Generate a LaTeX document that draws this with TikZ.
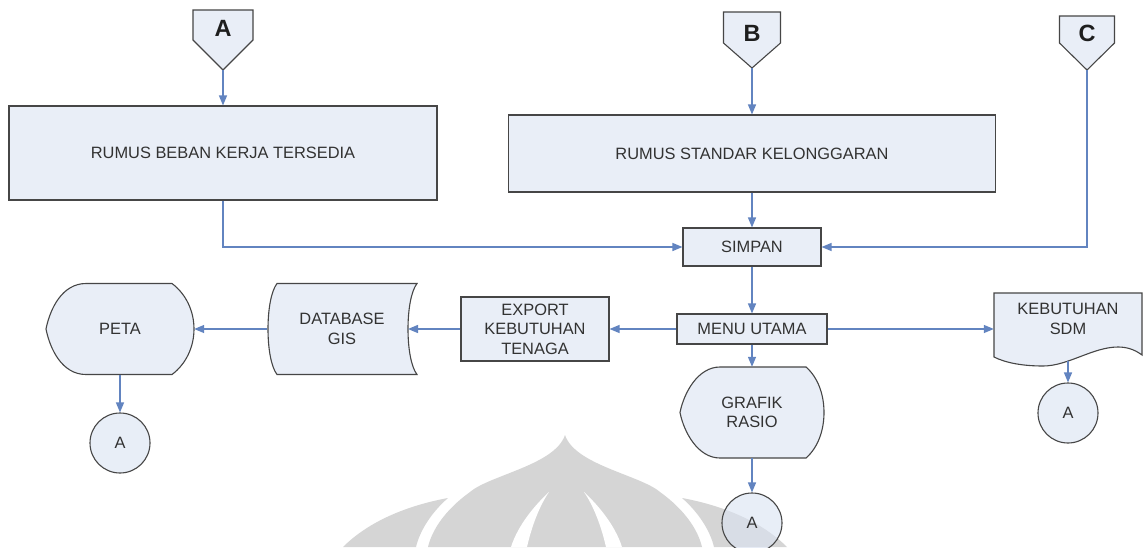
\documentclass[tikz,border=0pt]{standalone}
\usepackage{fontspec}
\setmainfont{Liberation Sans}
\usetikzlibrary{arrows.meta,calc}

\definecolor{boxfill}{RGB}{233,238,247}
\definecolor{discfill}{RGB}{218,227,242}
\definecolor{edgegray}{RGB}{70,70,70}
\definecolor{flowblue}{RGB}{98,132,192}
\definecolor{txtgray}{RGB}{50,50,50}
\definecolor{tagblack}{RGB}{30,30,30}
\definecolor{emblemgray}{RGB}{213,213,213}

\begin{document}
\begin{tikzpicture}[x=1pt,y=-1pt,
  lbl/.style={font=\fontsize{16.4}{19.5}\selectfont, text=txtgray, align=center, inner sep=0pt},
  tagletter/.style={font=\fontsize{23.5}{24}\selectfont\bfseries, text=tagblack, inner sep=0pt},
  frame/.style={draw=edgegray, line width=1.1pt, fill=boxfill},
  procbox/.style={lbl, frame, rectangle},
  hull/.style={lbl, rectangle, minimum width=#1},
  disc/.style={lbl, circle, draw=edgegray, line width=1.1pt, fill=discfill,
    fill opacity=0.6, text opacity=1, minimum size=60pt},
  flowline/.style={draw=flowblue, line width=1.3pt, -{Triangle[length=10pt,width=8pt]}}
]
\useasboundingbox (0,0) rectangle (1144,547);
\fill[white] (0,0) rectangle (1144,547);

% faint emblem in the background
\fill[emblemgray] (343,547) .. controls (370,520) and (410,505) .. (448,498)
  .. controls (432,512) and (420,530) .. (416,547) -- cycle;
\fill[emblemgray] (428,547) .. controls (432,530) and (445,510) .. (470,492)
  .. controls (490,475) and (555,465) .. (565,435)
  .. controls (575,465) and (640,475) .. (660,492)
  .. controls (685,510) and (698,530) .. (702,547) -- cycle;
\fill[emblemgray] (787,547) .. controls (760,520) and (720,505) .. (682,498)
  .. controls (698,512) and (710,530) .. (714,547) -- cycle;
\fill[white] (549,492) .. controls (535,505) and (518,525) .. (511,547) -- (527,547)
  .. controls (532,525) and (540,505) .. (549,492) -- cycle;
\fill[white] (584,492) .. controls (598,505) and (615,525) .. (622,547) -- (606,547)
  .. controls (601,525) and (593,505) .. (584,492) -- cycle;

% off-page connectors
\begin{scope}[shift={(223,40)}]
  \draw[frame] (-30,-30) -- (30,-30) -- (30,0) -- (0,30) -- (-30,0) -- cycle;
\end{scope}
\node[hull=60pt, minimum height=60pt] (offA) at (223,40) {};
\node[tagletter] (offAtxt) at (223,28.5) {A};

\begin{scope}[shift={(752,40)}]
  \draw[frame] (-28.5,-28) -- (28.5,-28) -- (28.5,3) -- (0,28) -- (-28.5,3) -- cycle;
\end{scope}
\node[hull=57pt, minimum height=56pt] (offB) at (752,40) {};
\node[tagletter] (offBtxt) at (752,33.5) {B};

\begin{scope}[shift={(1087,43)}]
  \draw[frame] (-27.5,-27) -- (27.5,-27) -- (27.5,0) -- (0,27) -- (-27.5,0) -- cycle;
\end{scope}
\node[hull=55pt, minimum height=54pt] (offC) at (1087,43) {};
\node[tagletter] (offCtxt) at (1087,33.5) {C};

% process boxes
\node[procbox, minimum width=428pt, minimum height=94pt] (rumusA) at (223,153) {RUMUS BEBAN KERJA TERSEDIA};
\node[procbox, minimum width=487pt, minimum height=77pt] (rumusB) at (752,153.5) {RUMUS STANDAR KELONGGARAN};
\node[procbox, minimum width=138pt, minimum height=38pt] (simpan) at (752,247) {SIMPAN};
\node[procbox, minimum width=150pt, minimum height=30pt] (menu) at (752,329) {MENU UTAMA};
\node[procbox, minimum width=148pt, minimum height=64pt] (export) at (535,329) {EXPORT\\KEBUTUHAN\\TENAGA};

% stored data
\begin{scope}[shift={(342,329)}]
  \draw[frame] (-65,-45.5) -- (75,-45.5) .. controls (63,-30) and (63,30) .. (75,45.5)
    -- (-65,45.5) .. controls (-77,30) and (-77,-30) .. (-65,-45.5) -- cycle;
  \coordinate (dbin) at (66,0);
\end{scope}
\node[hull=150pt, minimum height=91pt] (db) at (342,329) {DATABASE\\GIS};

% display shapes
\begin{scope}[shift={(120,329)}]
  \draw[frame] (-34,-45.5) -- (52,-45.5) .. controls (66,-35) and (74,-18) .. (74,0)
    .. controls (74,18) and (66,35) .. (52,45.5) -- (-34,45.5)
    .. controls (-58,45.5) and (-70,20) .. (-74,0)
    .. controls (-70,-20) and (-58,-45.5) .. (-34,-45.5) -- cycle;
\end{scope}
\node[hull=148pt, minimum height=91pt] (peta) at (120,329) {PETA};

\begin{scope}[shift={(752,412.5)}]
  \draw[frame] (-32,-45.5) -- (54,-45.5) .. controls (66,-35) and (72,-18) .. (72,0)
    .. controls (72,18) and (66,35) .. (54,45.5) -- (-32,45.5)
    .. controls (-54,45.5) and (-68,20) .. (-72,0)
    .. controls (-68,-20) and (-54,-45.5) .. (-32,-45.5) -- cycle;
\end{scope}
\node[hull=144pt, minimum height=91pt] (grafik) at (752,412.5) {GRAFIK\\RASIO};

% document
\begin{scope}[shift={(1068,329)}]
  \draw[frame] (-74,-36) -- (74,-36) -- (74,26) .. controls (66,20) and (58,18) .. (50,18)
    .. controls (25,18) and (0,37) .. (-25,37)
    .. controls (-45,37) and (-62,34) .. (-74,28) -- cycle;
  \coordinate (sdmout) at (0,32);
\end{scope}
\node[hull=148pt, minimum height=72pt] (sdm) at (1068,329) {};
\node[lbl] (sdmtxt) at (1068,319) {KEBUTUHAN\\SDM};

% on-page connectors
\node[disc] (cA1) at (120,443) {A};
\node[disc] (cA2) at (752,523) {A};
\node[disc] (cA3) at (1068,413) {A};

% flow
\draw[flowline] (offA.south) -- (rumusA.north);
\draw[flowline] (offB.south) -- (rumusB.north);
\draw[flowline] (rumusA.south) |- (simpan.west);
\draw[flowline] (rumusB.south) -- (simpan.north);
\draw[flowline] (offC.south) |- (simpan.east);
\draw[flowline] (simpan.south) -- (menu.north);
\draw[flowline] (menu.west) -- (export.east);
\draw[flowline] (export.west) -- (dbin);
\draw[flowline] (db.west) -- (peta.east);
\draw[flowline] (peta.south) -- (cA1.north);
\draw[flowline] (menu.east) -- (sdm.west);
\draw[flowline] (menu.south) -- (grafik.north);
\draw[flowline] (grafik.south) -- (cA2.north);
\draw[flowline] (sdmout) -- (cA3.north);
\end{tikzpicture}
\end{document}
